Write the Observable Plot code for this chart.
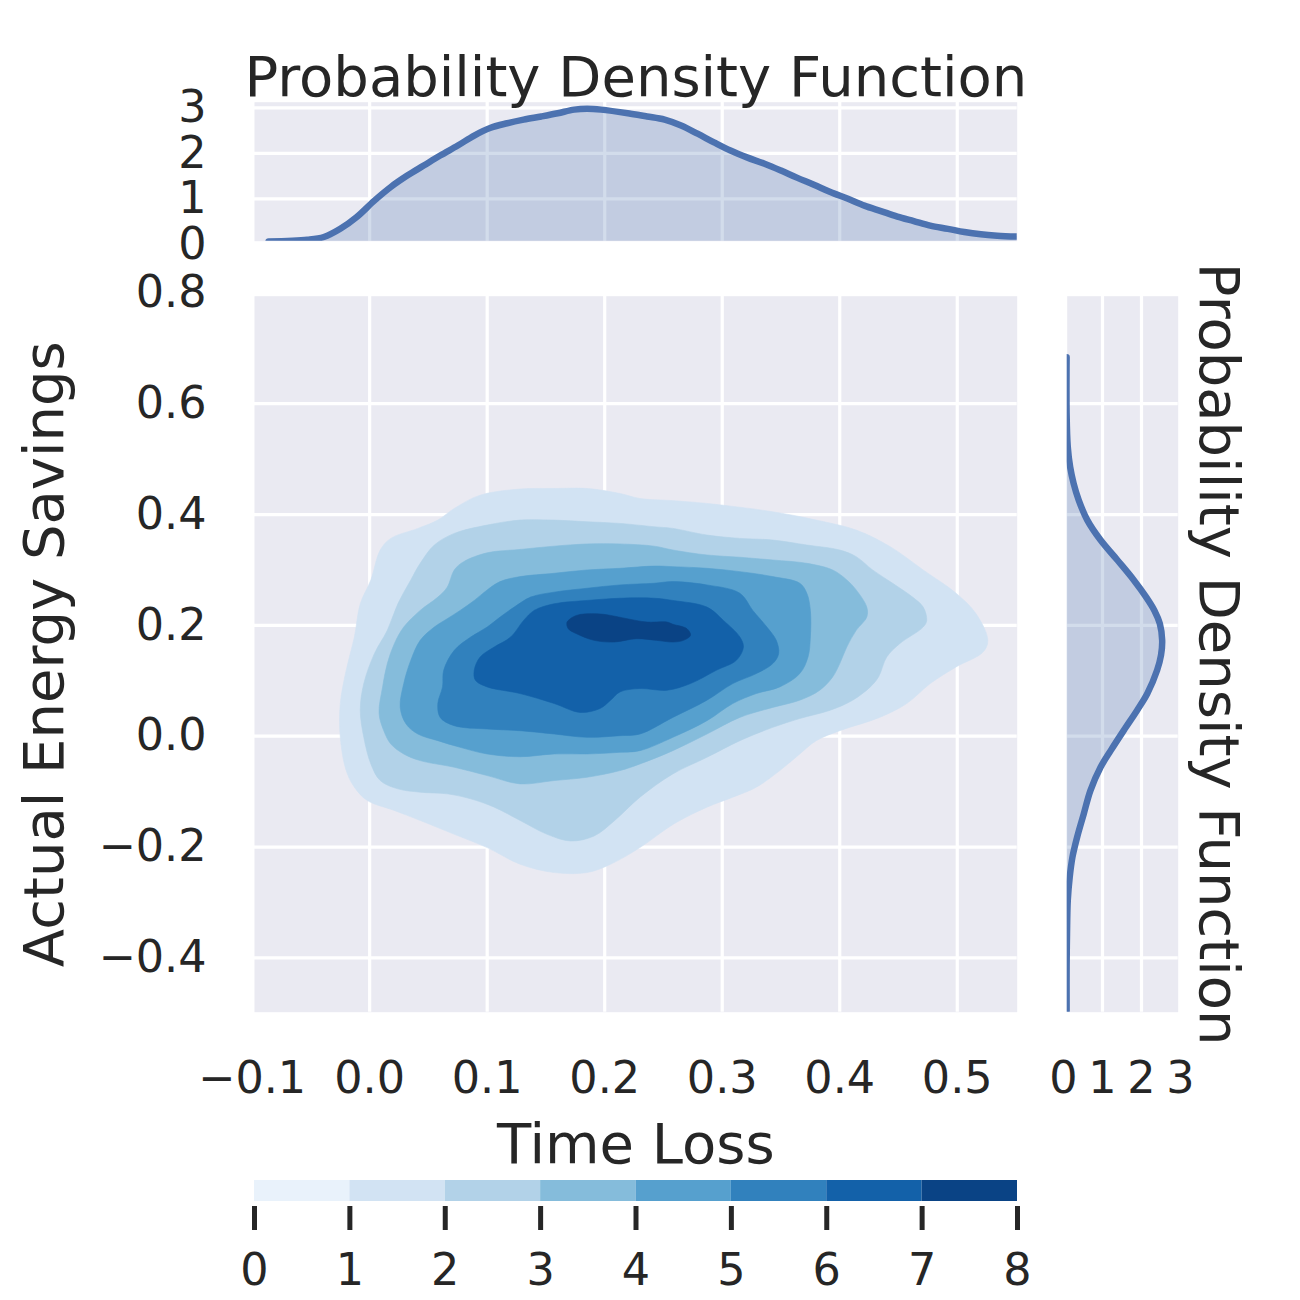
<!DOCTYPE html>
<html><head><meta charset="utf-8">
<script src="https://cdn.jsdelivr.net/npm/d3@7"></script>
<script src="https://cdn.jsdelivr.net/npm/@observablehq/plot@0.6"></script>
<style>
html,body{margin:0;padding:0;background:#fff;overflow:hidden;}
#chart{position:relative;width:1300px;height:1300px;overflow:hidden;font-family:"DejaVu Sans";color:#262626;}
#chart svg{position:absolute;left:0;top:0;max-width:none;}
</style></head><body><div id="chart"></div>
<script>
// ---------- data ----------
const xTicks = [-0.1, 0.0, 0.1, 0.2, 0.3, 0.4, 0.5];
const yTicks = [-0.4, -0.2, 0.0, 0.2, 0.4, 0.6, 0.8];
const densityTicks = [0, 1, 2, 3];
const colorbarTicks = [0, 1, 2, 3, 4, 5, 6, 7, 8];
const colorbarLevels = [0, 1, 2, 3, 4, 5, 6, 7];
const levelColors = ["#e9f2fb","#d2e3f3","#b2d2e8","#85bcdb","#56a0ce","#3181bd","#1361a9","#0a4385"];

// contour outlines [time loss, energy savings] for density levels 1..7
const contour1 = [[0.128,0.446],[0.157,0.447],[0.185,0.447],[0.213,0.438],[0.230,0.429],[0.259,0.425],[0.287,0.420],[0.343,0.405],[0.380,0.390],[0.414,0.372],[0.443,0.342],[0.471,0.300],[0.499,0.258],[0.516,0.221],[0.526,0.173],[0.522,0.152],[0.499,0.125],[0.477,0.095],[0.457,0.059],[0.434,0.034],[0.400,0.010],[0.380,-0.008],[0.366,-0.032],[0.349,-0.062],[0.329,-0.092],[0.309,-0.110],[0.287,-0.128],[0.259,-0.158],[0.230,-0.201],[0.205,-0.231],[0.185,-0.246],[0.157,-0.246],[0.128,-0.231],[0.100,-0.201],[0.072,-0.177],[0.043,-0.152],[0.021,-0.134],[-0.002,-0.116],[-0.013,-0.092],[-0.020,-0.062],[-0.025,-0.002],[-0.025,0.059],[-0.020,0.119],[-0.013,0.179],[-0.008,0.239],[0.001,0.282],[0.009,0.336],[0.018,0.357],[0.041,0.375],[0.058,0.390],[0.072,0.411],[0.094,0.435]];
const contour2 = [[0.100,0.381],[0.128,0.390],[0.157,0.390],[0.185,0.387],[0.213,0.384],[0.242,0.378],[0.258,0.375],[0.287,0.363],[0.315,0.357],[0.343,0.354],[0.372,0.345],[0.400,0.336],[0.414,0.324],[0.428,0.300],[0.445,0.276],[0.462,0.251],[0.471,0.233],[0.474,0.209],[0.471,0.197],[0.451,0.167],[0.440,0.143],[0.433,0.107],[0.426,0.089],[0.411,0.065],[0.392,0.047],[0.366,0.032],[0.343,0.016],[0.315,-0.008],[0.287,-0.038],[0.258,-0.068],[0.230,-0.110],[0.208,-0.153],[0.191,-0.180],[0.171,-0.189],[0.151,-0.177],[0.128,-0.152],[0.106,-0.128],[0.086,-0.113],[0.066,-0.104],[0.043,-0.101],[0.024,-0.095],[0.009,-0.080],[0.001,-0.050],[-0.005,-0.002],[-0.008,0.047],[-0.005,0.095],[0.004,0.149],[0.015,0.191],[0.024,0.239],[0.035,0.282],[0.043,0.312],[0.055,0.345],[0.072,0.366]];
const contour3 = [[0.100,0.331],[0.128,0.337],[0.157,0.343],[0.185,0.347],[0.213,0.347],[0.242,0.343],[0.258,0.336],[0.287,0.327],[0.315,0.323],[0.343,0.318],[0.372,0.312],[0.394,0.300],[0.406,0.282],[0.414,0.264],[0.423,0.233],[0.423,0.215],[0.414,0.191],[0.406,0.161],[0.400,0.131],[0.394,0.107],[0.383,0.083],[0.366,0.065],[0.343,0.052],[0.315,0.034],[0.287,0.004],[0.258,-0.026],[0.230,-0.050],[0.213,-0.062],[0.185,-0.074],[0.157,-0.080],[0.128,-0.086],[0.100,-0.071],[0.072,-0.056],[0.043,-0.044],[0.029,-0.032],[0.018,-0.014],[0.012,0.010],[0.008,0.041],[0.011,0.089],[0.015,0.131],[0.021,0.167],[0.029,0.197],[0.043,0.227],[0.058,0.251],[0.066,0.269],[0.072,0.300],[0.080,0.315]];
const contour4 = [[0.100,0.264],[0.111,0.279],[0.128,0.288],[0.157,0.294],[0.185,0.300],[0.213,0.303],[0.242,0.307],[0.258,0.306],[0.287,0.303],[0.315,0.297],[0.343,0.288],[0.366,0.276],[0.372,0.258],[0.375,0.227],[0.375,0.179],[0.373,0.143],[0.366,0.113],[0.349,0.089],[0.329,0.077],[0.309,0.059],[0.287,0.028],[0.258,-0.002],[0.230,-0.026],[0.213,-0.029],[0.185,-0.032],[0.157,-0.032],[0.128,-0.037],[0.100,-0.032],[0.077,-0.020],[0.058,-0.008],[0.041,0.004],[0.031,0.022],[0.026,0.052],[0.029,0.095],[0.035,0.137],[0.043,0.173],[0.055,0.197],[0.066,0.212],[0.077,0.227],[0.089,0.245]];
const contour5 = [[0.123,0.233],[0.137,0.251],[0.157,0.260],[0.185,0.267],[0.213,0.273],[0.242,0.276],[0.258,0.279],[0.287,0.273],[0.315,0.258],[0.326,0.227],[0.338,0.197],[0.346,0.173],[0.348,0.149],[0.343,0.131],[0.329,0.113],[0.309,0.095],[0.287,0.065],[0.258,0.034],[0.230,0.004],[0.213,0.001],[0.185,-0.002],[0.157,0.004],[0.128,0.010],[0.100,0.013],[0.072,0.019],[0.060,0.034],[0.058,0.059],[0.062,0.089],[0.063,0.119],[0.072,0.155],[0.086,0.179],[0.100,0.197],[0.111,0.215]];
const contour6 = [[0.131,0.209],[0.140,0.227],[0.157,0.239],[0.185,0.245],[0.213,0.249],[0.242,0.249],[0.258,0.245],[0.287,0.233],[0.301,0.209],[0.315,0.179],[0.318,0.161],[0.312,0.137],[0.295,0.119],[0.273,0.095],[0.253,0.083],[0.230,0.086],[0.213,0.080],[0.205,0.065],[0.196,0.050],[0.179,0.043],[0.157,0.059],[0.128,0.077],[0.100,0.089],[0.090,0.101],[0.089,0.119],[0.094,0.143],[0.106,0.161],[0.120,0.179]];
const contour7 = [[0.169,0.194],[0.168,0.206],[0.176,0.218],[0.193,0.221],[0.205,0.218],[0.219,0.212],[0.236,0.206],[0.253,0.206],[0.258,0.202],[0.270,0.194],[0.273,0.182],[0.267,0.173],[0.258,0.170],[0.244,0.173],[0.227,0.176],[0.208,0.170],[0.191,0.173],[0.176,0.185]];
const contours = [contour1, contour2, contour3, contour4, contour5, contour6, contour7];

// marginal density of Time Loss
const timeLossX = [-0.086,-0.053,-0.039,-0.025,-0.011,0.004,0.018,0.032,0.046,0.060,0.075,0.089,0.103,0.117,0.131,0.146,0.160,0.174,0.185,0.197,0.222,0.236,0.251,0.265,0.279,0.293,0.307,0.321,0.336,0.350,0.364,0.378,0.392,0.407,0.421,0.435,0.449,0.463,0.477,0.492,0.506,0.520,0.534,0.551];
const timeLossDensity = [0.06,0.10,0.16,0.34,0.60,0.96,1.26,1.51,1.73,1.95,2.17,2.39,2.56,2.66,2.74,2.81,2.88,2.96,2.98,2.96,2.87,2.81,2.74,2.61,2.43,2.24,2.06,1.91,1.77,1.62,1.46,1.31,1.15,1.00,0.85,0.73,0.61,0.51,0.41,0.34,0.27,0.22,0.19,0.17];

// marginal density of Actual Energy Savings
const savingsY = [0.684,0.582,0.522,0.486,0.456,0.426,0.390,0.354,0.318,0.282,0.251,0.227,0.203,0.173,0.146,0.119,0.077,0.047,0.011,-0.026,-0.056,-0.098,-0.140,-0.182,-0.218,-0.254,-0.296,-0.357,-0.417,-0.495];
const savingsDensity = [0.08,0.08,0.11,0.17,0.26,0.39,0.61,0.95,1.38,1.80,2.12,2.33,2.47,2.53,2.50,2.40,2.15,1.89,1.55,1.21,0.95,0.69,0.52,0.35,0.23,0.16,0.11,0.09,0.08,0.08];

const titleText = "Probability Density Function";
const xLabel = "Time Loss";
const yLabel = "Actual Energy Savings";

// ---------- layout ----------
const W = 1300, H = 1300;
const mainL = 254, mainR = 1016.7, mainT = 295.7, mainB = 1011.7;
const topT = 101.7, topB = 240.7;
const rightL = 1066.7, rightR = 1177.7;
const cbT = 1180, cbB = 1201, cbL = 254, cbR = 1017;
const xDomain = [-0.098, 0.551];
const yDomain = [-0.498, 0.794];
const bg = "#eaeaf2", lineColor = "#4c72b0", ink = "#262626";
const tickFont = 44.5, labelFont = 56;
const curveWidth = 6.5, cbTickWidth = 5;
const common = {width: W, height: H, style: {background: "transparent", fontFamily: "DejaVu Sans", color: ink, overflow: "visible"}};
const gridOpts = {stroke: "white", strokeOpacity: 1, strokeWidth: 3.2};
const inX = d => d >= xDomain[0] && d <= xDomain[1];
const inY = d => d >= yDomain[0] && d <= yDomain[1];
const f1 = d3.format(".1f"), fd = d3.format("d");
const labelText = {text: d => d, fontSize: labelFont, fill: ink, textAnchor: "middle", lineAnchor: "bottom"};

const timeLoss = timeLossX.map((x, i) => ({x, d: timeLossDensity[i]}));
const savings = savingsY.map((y, i) => ({y, d: savingsDensity[i]}));

const chart = document.getElementById("chart");

// main joint panel
chart.appendChild(Plot.plot({
  ...common,
  marginLeft: mainL, marginRight: W - mainR, marginTop: mainT, marginBottom: H - mainB,
  x: {domain: xDomain},
  y: {domain: yDomain},
  marks: [
    Plot.frame({fill: bg, stroke: "none"}),
    Plot.gridX(xTicks.filter(inX), gridOpts),
    Plot.gridY(yTicks.filter(inY), gridOpts),
    ...contours.map((c, i) => Plot.line(c, {x: d => d[0], y: d => d[1], fill: levelColors[i + 1], stroke: levelColors[i + 1], strokeWidth: 0.6, curve: "catmull-rom-closed"})),
    Plot.axisX({ticks: xTicks, tickFormat: f1, tickSize: 0, tickPadding: 49.4, fontSize: tickFont, label: null}),
    Plot.axisY({ticks: yTicks, tickFormat: f1, tickSize: 0, tickPadding: 48, fontSize: tickFont, label: null}),
    Plot.text([xLabel], {...labelText, frameAnchor: "bottom", dy: 1162 - mainB}),
    Plot.text([yLabel], {...labelText, frameAnchor: "left", dx: 62.5 - mainL, rotate: -90})
  ]
}));

// top marginal
const topPlot = Plot.plot({
  ...common,
  marginLeft: mainL, marginRight: W - mainR, marginTop: topT, marginBottom: H - topB,
  x: {domain: xDomain, axis: null},
  y: {domain: [0.068, 3.123]},
  marks: [
    Plot.frame({fill: bg, stroke: "none"}),
    Plot.gridX(xTicks.filter(inX), gridOpts),
    Plot.gridY([1, 2, 3], gridOpts),
    Plot.areaY(timeLoss, {x: "x", y: "d", fill: lineColor, fillOpacity: 0.25, curve: "catmull-rom", clip: true}),
    Plot.lineY(timeLoss, {x: "x", y: "d", stroke: lineColor, strokeWidth: curveWidth, curve: "catmull-rom", clip: true}),
    Plot.axisY({ticks: densityTicks, tickFormat: fd, tickSize: 0, tickPadding: 48, fontSize: tickFont, label: null}),
    Plot.text([titleText], {...labelText, frameAnchor: "top", dy: 95 - topT})
  ]
});
chart.appendChild(topPlot);

// right marginal
const rightPlot = Plot.plot({
  ...common,
  marginLeft: rightL, marginRight: W - rightR, marginTop: mainT, marginBottom: H - mainB,
  x: {domain: [0.095, 2.941]},
  y: {domain: yDomain, axis: null},
  marks: [
    Plot.frame({fill: bg, stroke: "none"}),
    Plot.gridX([1, 2], gridOpts),
    Plot.gridY(yTicks.filter(inY), gridOpts),
    Plot.areaX(savings, {y: "y", x: "d", fill: lineColor, fillOpacity: 0.25, curve: "catmull-rom", clip: true}),
    Plot.lineX(savings, {y: "y", x: "d", stroke: lineColor, strokeWidth: curveWidth, curve: "catmull-rom", clip: true}),
    Plot.axisX({ticks: densityTicks, tickFormat: fd, tickSize: 0, tickPadding: 49.4, fontSize: tickFont, label: null}),
    Plot.text([titleText], {...labelText, frameAnchor: "right", dx: 1199 - rightR, rotate: 90})
  ]
});
chart.appendChild(rightPlot);

// colorbar
const cbPlot = Plot.plot({
  ...common,
  marginLeft: cbL, marginRight: W - cbR, marginTop: cbT, marginBottom: H - cbB,
  x: {domain: [0, 8]},
  color: {type: "identity"},
  marks: [
    Plot.rect(colorbarLevels, {x1: d => d, x2: d => d + 1, fill: d => levelColors[d]}),
    Plot.axisX({ticks: colorbarTicks, tickFormat: fd, tickSize: 24, tickPadding: 22.4, dy: 5, strokeWidth: cbTickWidth, fontSize: tickFont, label: null})
  ]
});
chart.appendChild(cbPlot);

// make sure the heavier strokes are applied on the drawn paths
for (const svg of [topPlot, rightPlot]) {
  d3.select(svg).selectAll('g[aria-label="line"], g[aria-label="line"] path')
    .attr("stroke-width", curveWidth).style("stroke-width", curveWidth + "px");
}
d3.select(cbPlot).selectAll('g[aria-label="x-axis tick"], g[aria-label="x-axis tick"] path')
  .attr("stroke-width", cbTickWidth).style("stroke-width", cbTickWidth + "px");
</script></body></html>
